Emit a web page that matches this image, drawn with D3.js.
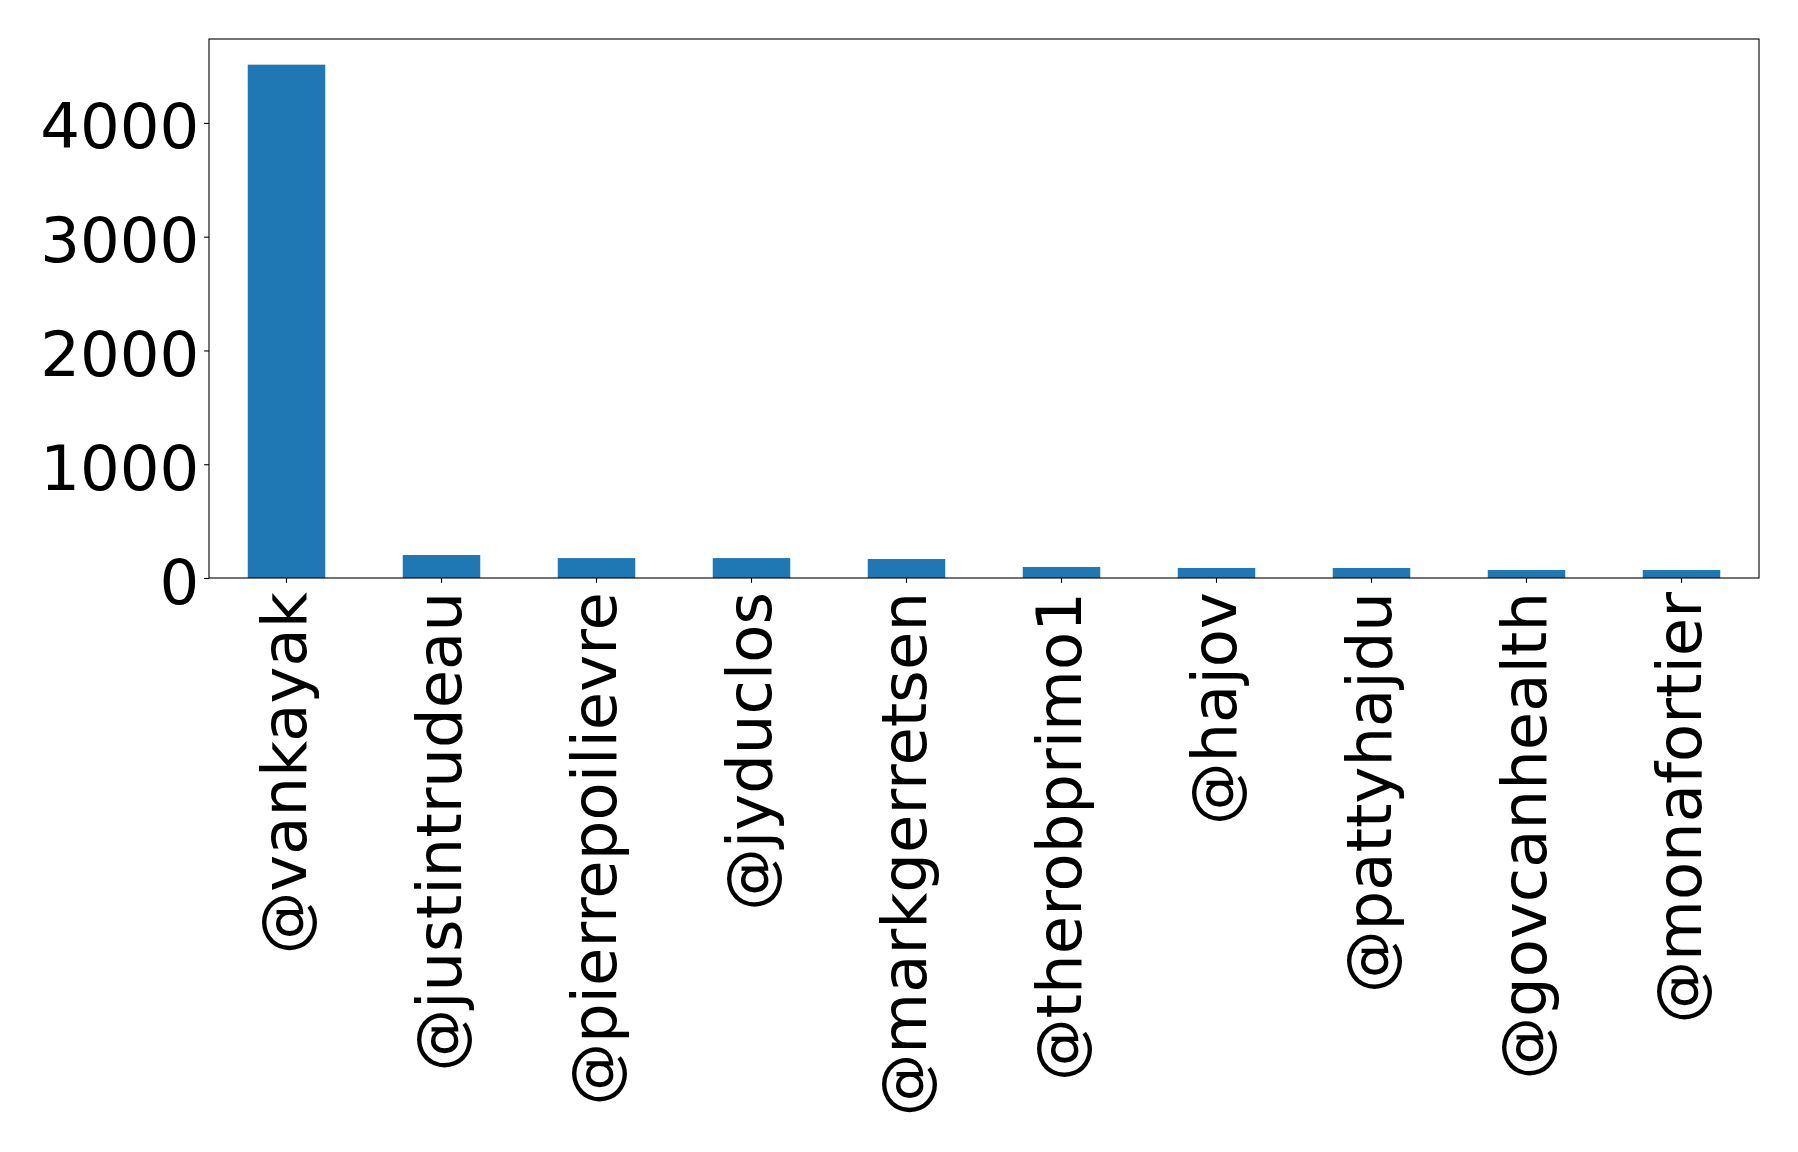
<!DOCTYPE html>
<html>
<head>
<meta charset="utf-8">
<script src="https://cdn.jsdelivr.net/npm/d3@7"></script>
<style>
  html, body { margin: 0; padding: 0; background: #fff; }
  svg { display: block; }
  text { font-family: "DejaVu Sans", sans-serif; }
</style>
</head>
<body>
<svg id="chart" width="1798" height="1152"></svg>
<script>
const categories = ["@vankayak", "@justintrudeau", "@pierrepoilievre", "@jyduclos", "@markgerretsen",
                    "@therobprimo1", "@hajov", "@pattyhajdu", "@govcanhealth", "@monafortier"];
const counts = [4512, 202, 175, 175, 167, 97, 88, 88, 70, 70];
const yTicks = [0, 1000, 2000, 3000, 4000];

const svg = d3.select("#chart");
const margin = { left: 209, top: 39, right: 1798 - 1759, bottom: 1152 - 578 };
const W = 1798, H = 1152;
const x0 = margin.left, x1 = W - margin.right, y0 = H - margin.bottom, y1 = margin.top;

const x = d3.scaleBand().domain(categories).range([x0, x1]).paddingInner(0.5).paddingOuter(0.25);
const y = d3.scaleLinear().domain([0, d3.max(counts) * 1.05]).range([y0, y1]);

const fontSize = 62.5;

// bars
svg.append("g").selectAll("rect").data(categories).join("rect")
  .attr("x", d => x(d))
  .attr("width", x.bandwidth())
  .attr("y", (d, i) => y(counts[i]))
  .attr("height", (d, i) => y(0) - y(counts[i]))
  .attr("fill", "#1f77b4");

// y axis
const yAxis = d3.axisLeft(y).tickValues(yTicks).tickFormat(d3.format("d")).tickSize(4.86).tickPadding(4.86);
const gy = svg.append("g").attr("transform", `translate(${x0},0)`).call(yAxis);
gy.select(".domain").remove();
gy.selectAll(".tick line").attr("stroke", "#000").attr("stroke-width", 1.1);
gy.selectAll(".tick text").attr("font-size", fontSize).attr("fill", "#000")
  .attr("font-family", "'DejaVu Sans', sans-serif").attr("dy", "0.4em");

// x axis
const xAxis = d3.axisBottom(x).tickSize(4.86).tickPadding(0);
const gx = svg.append("g").attr("transform", `translate(0,${y0})`).call(xAxis);
gx.select(".domain").remove();
gx.selectAll(".tick line").attr("stroke", "#000").attr("stroke-width", 1.1);
gx.selectAll(".tick text")
  .attr("font-size", fontSize).attr("fill", "#000")
  .attr("font-family", "'DejaVu Sans', sans-serif")
  .attr("text-anchor", "end")
  .attr("x", 0).attr("y", 0)
  .attr("dy", "0.31em")
  .attr("transform", "translate(0,14) rotate(-90)");

// frame
svg.append("rect")
  .attr("x", x0).attr("y", y1).attr("width", x1 - x0).attr("height", y0 - y1)
  .attr("fill", "none").attr("stroke", "#000").attr("stroke-width", 1.1);
</script>
</body>
</html>
